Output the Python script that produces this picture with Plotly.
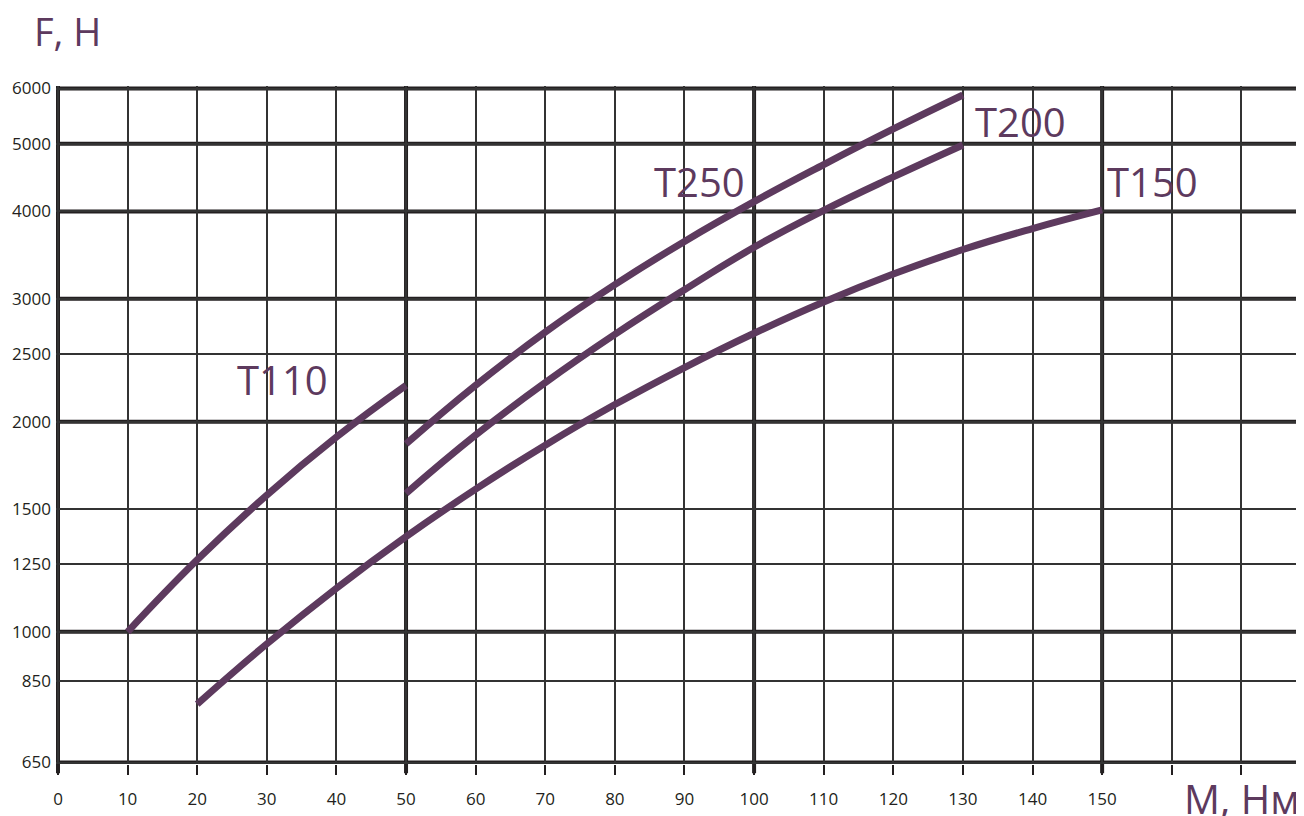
import numpy as np
import plotly.graph_objects as go

# torque M (Nm) vs force F (N)
m_t110 = [10, 20, 30, 40, 50]
f_t110 = [1000, 1268, 1570, 1901, 2254]

m_t150 = [20, 30, 40, 50, 60, 70, 80, 90, 100, 110, 120, 130, 140, 150]
f_t150 = [788, 961, 1155, 1369, 1601, 1851, 2116, 2391, 2677, 2968, 3254, 3528, 3780, 4020]

m_t200 = [50, 60, 70, 80, 90, 100, 110, 120, 130]
f_t200 = [1579, 1914, 2275, 2667, 3090, 3554, 4014, 4483, 4981]

m_t250 = [50, 60, 70, 80, 90, 100, 110, 120, 130]
f_t250 = [1858, 2255, 2687, 3142, 3624, 4131, 4668, 5250, 5873]

x_ticks = list(range(0, 180, 10))
x_labels = [str(v) if v <= 150 else "" for v in x_ticks]
x_major = [0, 50, 100, 150]

y_ticks = [650, 850, 1000, 1250, 1500, 2000, 2500, 3000, 4000, 5000, 6000]
y_major = [650, 1000, 2000, 3000, 4000, 5000, 6000]

PURPLE = "#5d3a5e"
INK = "#231f20"
FONT = "Open Sans"

fig = go.Figure()
for xs, ys, name in [(m_t110, f_t110, "T110"), (m_t150, f_t150, "T150"),
                     (m_t200, f_t200, "T200"), (m_t250, f_t250, "T250")]:
    fig.add_trace(go.Scatter(x=xs, y=ys, mode="lines", name=name,
                             line=dict(color=PURPLE, width=7, shape="spline", smoothing=1.3)))

# thick grid lines
for v in x_major:
    fig.add_shape(type="line", xref="x", yref="paper", x0=v, x1=v, y0=-0.0135, y1=1,
                  line=dict(color=INK, width=4), layer="between")
for v in y_major:
    fig.add_shape(type="line", xref="paper", yref="y", x0=0, x1=1, y0=v, y1=v,
                  line=dict(color=INK, width=4), layer="between")

labels = [("T110", 32.3, 2295), ("T250", 92.1, 4410), ("T200", 138.2, 5373), ("T150", 157.2, 4410)]
for txt, lx, ly in labels:
    fig.add_annotation(x=lx, y=np.log10(ly), text=txt, showarrow=False,
                       xanchor="center", yanchor="middle",
                       font=dict(family=FONT, size=40, color=PURPLE))

fig.add_annotation(xref="paper", yref="paper", x=-0.019, y=1.081, text="F, H",
                   xanchor="left", yanchor="middle", showarrow=False,
                   font=dict(family=FONT, size=38, color=PURPLE))
fig.add_annotation(xref="paper", yref="paper", x=0.902, y=-0.0516, text="M, Нм",
                   xanchor="left", yanchor="middle", showarrow=False,
                   font=dict(family=FONT, size=40, color=PURPLE))

px_dec = 674 / (np.log10(6000) - np.log10(650))
y_range = [np.log10(650) - 1.5 / px_dec, np.log10(6000) + 2.5 / px_dec]

fig.update_layout(
    width=1296, height=808,
    margin=dict(l=48, r=0, t=78, b=52),
    plot_bgcolor="white", paper_bgcolor="white",
    showlegend=False,
    font=dict(family=FONT, size=17, color=INK),
)
fig.update_xaxes(range=[-2 / 6.961, 179.0], tickvals=x_ticks, ticktext=x_labels,
                 showgrid=True, gridcolor="#333333", gridwidth=1.5,
                 ticks="outside", ticklen=10, tickwidth=1.5, tickcolor=INK,
                 ticklabelstandoff=10, zeroline=False, showline=False,
                 tickfont=dict(size=17))
fig.update_yaxes(type="log", range=y_range, tickvals=y_ticks, ticktext=[str(v) for v in y_ticks],
                 showgrid=True, gridcolor="#333333", gridwidth=1.5,
                 ticks="", zeroline=False, showline=False, ticklabelstandoff=4,
                 tickfont=dict(size=17))

fig.write_html("out.html")
